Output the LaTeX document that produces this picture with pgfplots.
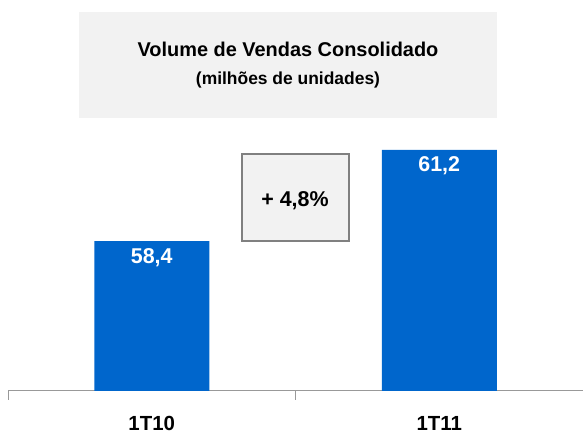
\documentclass[border=0pt]{standalone}
\usepackage{pgfplots}
\pgfplotsset{compat=1.18}
\usepackage{fontspec}
\setmainfont{Liberation Sans}
\definecolor{barblue}{HTML}{0066CC}
\definecolor{boxgray}{HTML}{F2F2F2}
\definecolor{bordergray}{HTML}{808080}
\definecolor{axisgray}{HTML}{999999}
\begin{document}
\begin{tikzpicture}[x=1bp,y=1bp]
\useasboundingbox (0,0) rectangle (583,435);
% title box
\fill[boxgray] (79,435-12) rectangle (497,435-118);
\node[anchor=base,inner sep=0] at (288,435-57) {\fontsize{20}{24}\selectfont\bfseries Volume de Vendas Consolidado};
\node[anchor=base,inner sep=0] at (288,435-85) {\fontsize{17.5}{20}\selectfont\bfseries (milhões de unidades)};
\begin{axis}[
  at={(8bp,44bp)}, anchor=south west,
  scale only axis, width=575bp, height=241bp,
  xmin=-0.5, xmax=1.5, ymin=53.8, ymax=61.2,
  axis y line=none, axis x line*=bottom,
  axis line style={axisgray, line width=1bp},
  xtick={-0.5,0.5,1.5}, xticklabels={},
  tick style={axisgray, line width=1bp},
  tick align=outside, major tick length=9bp,
  ytick=\empty,
  clip=false,
  ybar, bar width=115bp,
  nodes near coords={\pgfmathprintnumber[fixed,precision=1,use comma,fixed zerofill,assume math mode=true]{\pgfplotspointmeta}},
  nodes near coords style={anchor=base, yshift=-22bp, text=white, font=\fontsize{21.5}{24}\selectfont\bfseries, inner sep=0},
]
\addplot[fill=barblue, draw=none] coordinates {(0,58.4) (1,61.2)};
\node[anchor=base,inner sep=0] at (axis cs:0,53.8) [yshift=-40bp] {\fontsize{20.5}{24}\selectfont\bfseries 1T10};
\node[anchor=base,inner sep=0] at (axis cs:1,53.8) [yshift=-40bp] {\fontsize{20.5}{24}\selectfont\bfseries 1T11};
\end{axis}
% variation box
\draw[bordergray, fill=boxgray, line width=2bp] (242,435-154) rectangle (349,435-241);
\node[anchor=base,inner sep=0] at (295,435-207) {\fontsize{21.5}{24}\selectfont\bfseries + 4,8\%};
\end{tikzpicture}
\end{document}
